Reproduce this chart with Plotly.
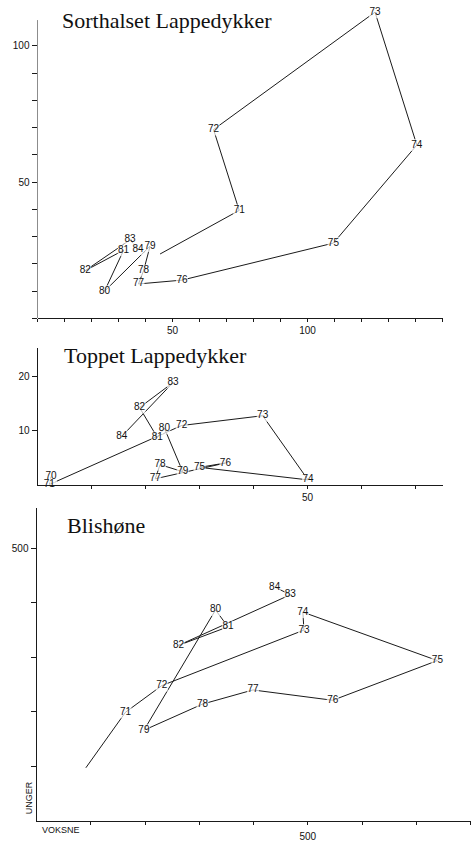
import plotly.graph_objects as go

W, H = 475, 842

# ---------------- data ----------------
years = ["70", "71", "72", "73", "74", "75", "76", "77", "78", "79", "80", "81", "82", "83", "84"]

# Sorthalset Lappedykker (first point, 1970, is unlabeled in the original)
p1_labels = [""] + years[1:]
p1_voksne = [45.4, 74.7, 65.2, 125.0, 140.5, 109.6, 53.5, 37.4, 39.3, 41.7, 24.8, 31.9, 17.7, 34.3, 37.2]
p1_unger = [23.6, 39.6, 69.3, 112.4, 63.6, 27.6, 14.0, 12.6, 17.5, 26.5, 9.9, 25.0, 17.5, 28.8, 25.4]

# Toppet Lappedykker
p2_labels = years
p2_voksne = [2.5, 2.2, 26.7, 41.7, 50.1, 30.0, 34.8, 21.8, 22.7, 26.9, 23.5, 22.2, 18.9, 25.1, 15.6]
p2_unger = [1.5, 0.05, 10.9, 12.7, 0.9, 3.2, 4.0, 1.1, 3.7, 2.4, 10.4, 8.7, 14.2, 18.8, 8.9]

# Blishøne (first point, 1970, is unlabeled in the original)
p3_labels = [""] + years[1:]
p3_voksne = [91, 164, 231, 493, 491, 739, 546, 399, 306, 198, 330, 353, 262, 468, 439]
p3_unger = [97, 199, 248, 350, 383, 294, 221, 240, 214, 166, 387, 356, 322, 415, 429]

titles = ["Sorthalset Lappedykker", "Toppet Lappedykker", "Blishøne"]

p1_xticks = list(range(0, 151, 10))
p1_xticktext = ["50" if v == 50 else "100" if v == 100 else "" for v in p1_xticks]
p1_yticks = list(range(0, 101, 10))
p1_yticktext = ["50" if v == 50 else "100" if v == 100 else "" for v in p1_yticks]

p2_xticks = list(range(10, 71, 10))
p2_xticktext = ["50" if v == 50 else "" for v in p2_xticks]
p2_yticks = [10, 20]
p2_yticktext = ["10", "20"]

p3_xticks = list(range(100, 801, 100))
p3_xticktext = ["500" if v == 500 else "" for v in p3_xticks]
p3_yticks = list(range(100, 501, 100))
p3_yticktext = ["500" if v == 500 else "" for v in p3_yticks]

# ---------------- layout helpers ----------------
def px_x(p):
    return p / W

def px_y(p):
    return 1 - p / H

LINE = "#1a1a1a"
LBL_FONT = dict(family="Liberation Sans, Arial, sans-serif", size=10, color="#111")
TICK_FONT = dict(family="Liberation Sans, Arial, sans-serif", size=10, color="#111")

# px per unit on the y scale is kept as in the original; ytop = visible axis end,
# yr = range (panel 1 is extended so that the 1973 point stays drawable)
panels = [
    dict(x=p1_voksne, y=p1_unger, lab=p1_labels, xr=[0, 150], yr=[0, 114.5], ytop=109.5,
         xd=[px_x(37.5), px_x(442.5)], yd=[px_y(319.4), px_y(319.4 - 114.5 * 2.733)],
         xt=p1_xticks, xtt=p1_xticktext, yt=p1_yticks, ytt=p1_yticktext, so=0),
    dict(x=p2_voksne, y=p2_unger, lab=p2_labels, xr=[0, 75], yr=[0, 25.2], ytop=None,
         xd=[px_x(37.5), px_x(442.5)], yd=[px_y(486.5), px_y(349)],
         xt=p2_xticks, xtt=p2_xticktext, yt=p2_yticks, ytt=p2_yticktext, so=0),
    dict(x=p3_voksne, y=p3_unger, lab=p3_labels, xr=[0, 800], yr=[0, 574], ytop=None,
         xd=[px_x(36.5), px_x(470.5)], yd=[px_y(823.5), px_y(510)],
         xt=p3_xticks, xtt=p3_xticktext, yt=p3_yticks, ytt=p3_yticktext, so=3),
]

fig = go.Figure()
annotations = []
shapes = []
layout = {}

for i, p in enumerate(panels):
    n = "" if i == 0 else str(i + 1)
    xa, ya = "x" + n, "y" + n
    # connecting line, year by year
    fig.add_trace(go.Scatter(
        x=p["x"], y=p["y"], mode="lines", xaxis=xa, yaxis=ya,
        line=dict(color=LINE, width=1), hoverinfo="skip", showlegend=False,
    ))
    # year labels, with a white patch that opens a gap in the line
    fig.add_trace(go.Scatter(
        x=p["x"], y=p["y"], mode="markers+text", text=p["lab"],
        textposition="middle center", textfont=LBL_FONT,
        marker=dict(symbol="square", color="white",
                    size=[12 if t else 0 for t in p["lab"]], line=dict(width=0)),
        xaxis=xa, yaxis=ya, cliponaxis=False, hoverinfo="skip", showlegend=False,
    ))
    common = dict(showgrid=False, zeroline=False, ticks="outside", tickcolor=LINE,
                  tickfont=TICK_FONT, fixedrange=True, linecolor=LINE, linewidth=1)
    layout["xaxis" + n] = dict(domain=p["xd"], range=p["xr"], anchor=ya,
                               showline=True, ticklen=3,
                               tickvals=p["xt"], ticktext=p["xtt"],
                               ticklabelstandoff=p["so"], **common)
    layout["yaxis" + n] = dict(domain=p["yd"], range=p["yr"], anchor=xa,
                               showline=p["ytop"] is None, ticklen=5,
                               tickvals=p["yt"], ticktext=p["ytt"], **common)
    if p["ytop"] is not None:
        # vertical axis line up to the visible end of the original axis
        shapes.append(dict(type="line", xref=xa, yref=ya, x0=p["xr"][0], x1=p["xr"][0],
                           y0=p["yr"][0], y1=p["ytop"], line=dict(color=LINE, width=1)))

title_pos = [(60, 21), (62, 357), (65, 527)]
for t, (tx, ty) in zip(titles, title_pos):
    annotations.append(dict(
        x=px_x(tx), y=px_y(ty), xref="paper", yref="paper", text=t,
        showarrow=False, xanchor="left", yanchor="middle",
        font=dict(family="Liberation Serif, Times New Roman, serif", size=22, color="#111"),
    ))

annotations.append(dict(
    x=px_x(29), y=px_y(801), xref="paper", yref="paper", text="UNGER",
    showarrow=False, textangle=-90, xanchor="center", yanchor="middle",
    font=dict(family="Liberation Sans, Arial, sans-serif", size=9, color="#111"),
))
annotations.append(dict(
    x=px_x(40), y=px_y(833), xref="paper", yref="paper", text="VOKSNE",
    showarrow=False, xanchor="left", yanchor="middle",
    font=dict(family="Liberation Sans, Arial, sans-serif", size=9, color="#111"),
))

fig.update_layout(
    width=W, height=H, margin=dict(l=0, r=0, t=0, b=0),
    paper_bgcolor="white", plot_bgcolor="white",
    annotations=annotations, shapes=shapes, showlegend=False, **layout,
)

fig.write_html(
    "out.html",
    config={"displayModeBar": False},
    post_script="document.body.style.margin='0';document.body.style.overflow='hidden';",
)
